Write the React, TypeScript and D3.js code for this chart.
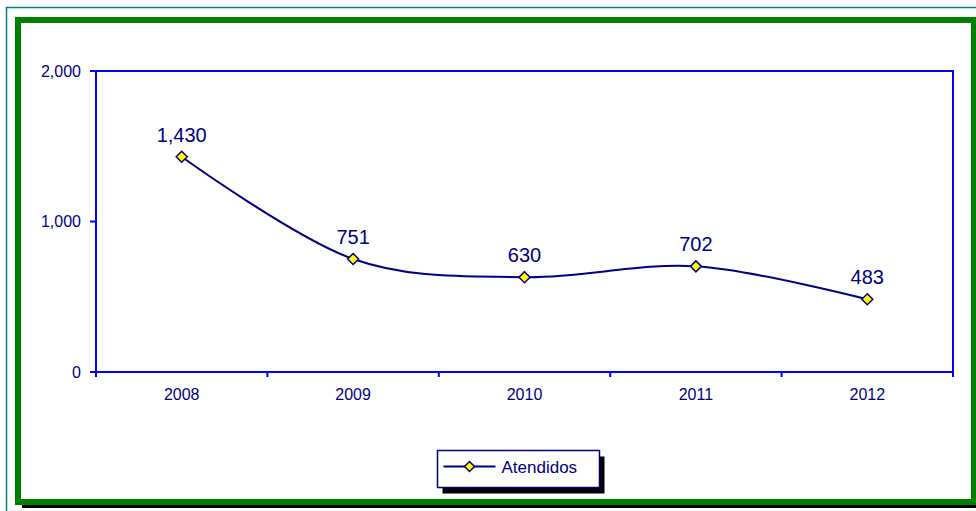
import React from "react";
import * as d3 from "d3";

const years = ["2008", "2009", "2010", "2011", "2012"];
const atendidos = [1430, 751, 630, 702, 483];
const yTicks = [0, 1000, 2000];
const seriesName = "Atendidos";

const W = 976;
const H = 511;
const plot = { left: 96, right: 953, top: 71, bottom: 372 };
const NAVY = "#000080";
const BLUE = "#0000ff";
const FONT = "Arial, 'Liberation Sans', sans-serif";

export default function App() {
  const x = d3.scaleBand<string>().domain(years).range([plot.left, plot.right]).padding(0);
  const y = d3.scaleLinear().domain([0, 2000]).range([plot.bottom, plot.top]);
  const fmt = d3.format(",");
  const cx = (d: string) => (x(d) as number) + x.bandwidth() / 2;
  const pts: [number, number][] = years.map((yr, i) => [cx(yr), y(atendidos[i])]);
  const line = d3.line().curve(d3.curveCardinal.tension(0))(pts) as string;
  const diamond = (px: number, py: number, r = 5.5) =>
    `M${px},${py - r}L${px + r},${py}L${px},${py + r}L${px - r},${py}Z`;
  const boundaries = years.map((yr) => x(yr) as number).concat([plot.right]);

  const lg = { x: 437.5, y: 450.5, w: 162, h: 37 };

  return (
    <svg
      width={W}
      height={H}
      style={{ position: "absolute", left: 0, top: 0, display: "block" }}
      fontFamily={FONT}
    >
      <rect x={0} y={0} width={W} height={H} fill="#ffffff" />
      {/* outer teal frame */}
      <rect x={6.5} y={7.5} width={W + 10} height={H + 10} fill="none" stroke="#008080" strokeWidth={1.5} />
      {/* black shadow */}
      <rect x={22} y={24} width={W} height={484} fill="#000000" />
      {/* green frame */}
      <rect x={18} y={20} width={956} height={482} fill="#ffffff" stroke="#008000" strokeWidth={6} />

      {/* plot area border */}
      <rect
        x={plot.left}
        y={plot.top}
        width={plot.right - plot.left}
        height={plot.bottom - plot.top}
        fill="none"
        stroke={BLUE}
        strokeWidth={2}
      />
      {/* y ticks */}
      {yTicks.map((t) => (
        <g key={t}>
          <line x1={plot.left - 6} x2={plot.left} y1={y(t)} y2={y(t)} stroke={BLUE} strokeWidth={2} />
          <text x={plot.left - 15} y={y(t)} dy="0.35em" textAnchor="end" fontSize={16} fill={NAVY}>
            {fmt(t)}
          </text>
        </g>
      ))}
      {/* x ticks */}
      {boundaries.map((bx, i) => (
        <line key={i} x1={bx} x2={bx} y1={plot.bottom} y2={plot.bottom + 5} stroke={BLUE} strokeWidth={2} />
      ))}
      {years.map((yr) => (
        <text key={yr} x={cx(yr)} y={plot.bottom + 28} textAnchor="middle" fontSize={16} fill={NAVY}>
          {yr}
        </text>
      ))}

      {/* series */}
      <path d={line} fill="none" stroke={NAVY} strokeWidth={2} />
      {pts.map(([px, py], i) => (
        <g key={i}>
          <path d={diamond(px, py)} fill="#ffff00" stroke={NAVY} strokeWidth={1.5} />
          <text x={px} y={py - 15} textAnchor="middle" fontSize={20} fill={NAVY}>
            {fmt(atendidos[i])}
          </text>
        </g>
      ))}

      {/* legend */}
      <rect x={lg.x + 5} y={lg.y + 6} width={lg.w} height={lg.h} fill="#000000" />
      <rect x={lg.x} y={lg.y} width={lg.w} height={lg.h} fill="#ffffff" stroke={NAVY} strokeWidth={1.5} />
      <line x1={lg.x + 6} x2={lg.x + 58} y1={lg.y + 16} y2={lg.y + 16} stroke={NAVY} strokeWidth={2} />
      <path d={diamond(lg.x + 32, lg.y + 16, 5)} fill="#ffff00" stroke={NAVY} strokeWidth={1.5} />
      <text x={lg.x + 64} y={lg.y + 17} dy="0.35em" fontSize={17} fill={NAVY}>
        {seriesName}
      </text>
    </svg>
  );
}
